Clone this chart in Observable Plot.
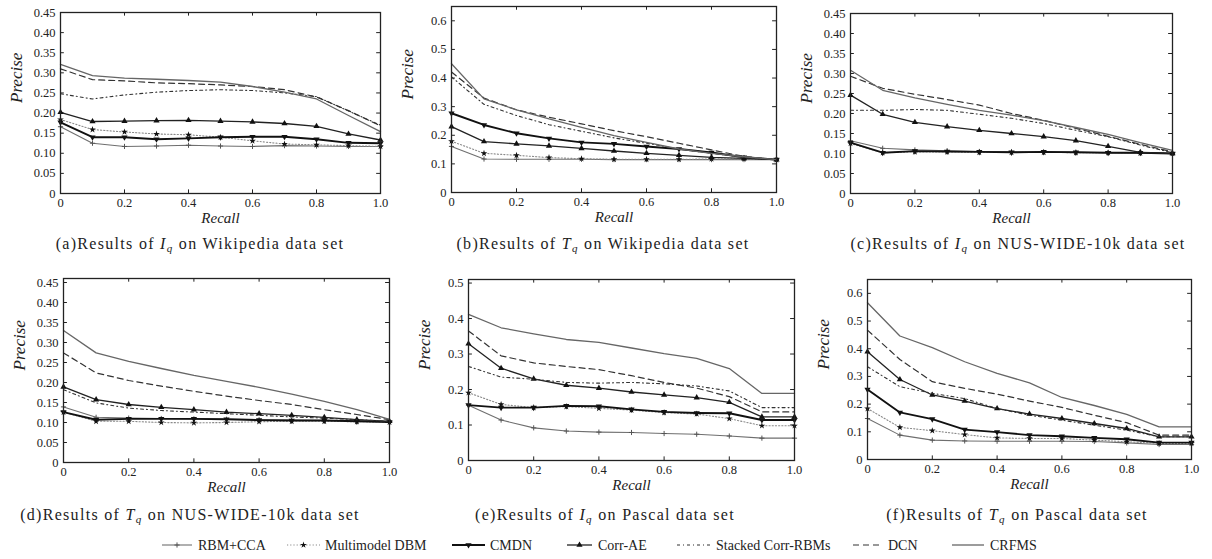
<!DOCTYPE html>
<html><head><meta charset="utf-8">
<script src="https://cdn.jsdelivr.net/npm/d3@7"></script>
<script src="https://cdn.jsdelivr.net/npm/@observablehq/plot@0.6"></script>
<style>
body{margin:0;background:#fff;}
#root{position:relative;width:1212px;height:559px;overflow:hidden;font-family:"Liberation Serif","DejaVu Serif","Noto Serif","Times New Roman",Times,serif;background:#fff;}
.panel{position:absolute;}
.cap{position:absolute;font-size:16px;letter-spacing:1.3px;white-space:nowrap;transform:translate(-50%,-50%);color:#222;line-height:1;}
.cap sub{font-size:11px;font-style:italic;vertical-align:-3px;line-height:0;}
#legend{position:absolute;left:0;top:530px;}
</style></head><body><div id="root"></div>
<script>
// ---------------- data ----------------
const recall = [0, 0.1, 0.2, 0.3, 0.4, 0.5, 0.6, 0.7, 0.8, 0.9, 1.0];
const methods = ["RBM+CCA", "Multimodel DBM", "CMDN", "Corr-AE", "Stacked Corr-RBMs", "DCN", "CRFMS"];
const xTicks = [0, 0.2, 0.4, 0.6, 0.8, 1.0];

// (a) I_q on Wikipedia
const aRBM     = [0.166,0.125,0.117,0.118,0.120,0.118,0.117,0.119,0.118,0.117,0.117];
const aDBM     = [0.184,0.159,0.153,0.148,0.146,0.140,0.131,0.123,0.121,0.119,0.117];
const aCMDN    = [0.177,0.140,0.140,0.135,0.137,0.140,0.141,0.141,0.135,0.126,0.125];
const aCorrAE  = [0.202,0.179,0.180,0.181,0.182,0.180,0.178,0.174,0.167,0.148,0.133];
const aStacked = [0.248,0.235,0.245,0.252,0.256,0.258,0.256,0.250,0.241,0.205,0.170];
const aDCN     = [0.310,0.283,0.280,0.275,0.273,0.270,0.266,0.258,0.240,0.206,0.168];
const aCRFMS   = [0.321,0.293,0.287,0.284,0.281,0.277,0.266,0.252,0.235,0.194,0.154];
// (b) T_q on Wikipedia
const bRBM     = [0.161,0.117,0.116,0.116,0.116,0.115,0.115,0.115,0.115,0.115,0.115];
const bDBM     = [0.179,0.137,0.130,0.122,0.118,0.116,0.116,0.116,0.117,0.117,0.115];
const bCMDN    = [0.277,0.236,0.207,0.189,0.175,0.170,0.161,0.152,0.140,0.123,0.115];
const bCorrAE  = [0.230,0.178,0.170,0.163,0.154,0.145,0.137,0.130,0.123,0.119,0.115];
const bStacked = [0.404,0.308,0.269,0.237,0.214,0.191,0.172,0.152,0.137,0.123,0.115];
const bDCN     = [0.421,0.330,0.289,0.263,0.240,0.216,0.195,0.172,0.149,0.126,0.115];
const bCRFMS   = [0.450,0.327,0.289,0.257,0.228,0.199,0.175,0.152,0.137,0.125,0.115];
// (c) I_q on NUS-WIDE-10k
const cRBM     = [0.132,0.113,0.109,0.107,0.105,0.104,0.103,0.103,0.102,0.101,0.100];
const cDBM     = [0.125,0.102,0.104,0.104,0.103,0.103,0.103,0.102,0.102,0.101,0.100];
const cCMDN    = [0.127,0.102,0.106,0.105,0.104,0.103,0.104,0.103,0.102,0.102,0.100];
const cCorrAE  = [0.246,0.198,0.178,0.167,0.158,0.150,0.142,0.132,0.118,0.103,0.100];
const cStacked = [0.208,0.208,0.210,0.208,0.198,0.188,0.175,0.158,0.142,0.121,0.102];
const cDCN     = [0.293,0.263,0.248,0.235,0.221,0.200,0.183,0.163,0.143,0.123,0.104];
const cCRFMS   = [0.308,0.258,0.239,0.223,0.208,0.196,0.182,0.165,0.148,0.127,0.108];
// (d) T_q on NUS-WIDE-10k
const dRBM     = [0.139,0.113,0.111,0.110,0.109,0.108,0.107,0.106,0.105,0.104,0.103];
const dDBM     = [0.126,0.103,0.103,0.100,0.099,0.100,0.102,0.103,0.103,0.102,0.101];
const dCMDN    = [0.126,0.107,0.109,0.109,0.109,0.108,0.106,0.105,0.105,0.103,0.101];
const dCorrAE  = [0.189,0.157,0.145,0.138,0.132,0.126,0.122,0.118,0.113,0.107,0.103];
const dStacked = [0.182,0.149,0.136,0.130,0.126,0.122,0.118,0.114,0.111,0.107,0.103];
const dDCN     = [0.274,0.224,0.205,0.191,0.178,0.166,0.155,0.145,0.132,0.120,0.107];
const dCRFMS   = [0.330,0.274,0.253,0.235,0.218,0.203,0.188,0.171,0.153,0.132,0.108];
// (e) I_q on Pascal
const eRBM     = [0.156,0.114,0.092,0.083,0.080,0.079,0.076,0.074,0.069,0.063,0.063];
const eDBM     = [0.191,0.158,0.149,0.152,0.147,0.142,0.135,0.131,0.118,0.098,0.098];
const eCMDN    = [0.156,0.149,0.149,0.154,0.153,0.144,0.137,0.134,0.133,0.114,0.114];
const eCorrAE  = [0.329,0.260,0.230,0.212,0.204,0.193,0.185,0.177,0.164,0.123,0.123];
const eStacked = [0.265,0.235,0.229,0.220,0.218,0.220,0.216,0.210,0.196,0.149,0.149];
const eDCN     = [0.365,0.295,0.275,0.265,0.256,0.239,0.220,0.204,0.180,0.137,0.137];
const eCRFMS   = [0.412,0.374,0.357,0.341,0.333,0.317,0.301,0.288,0.259,0.189,0.189];
// (f) T_q on Pascal
const fRBM     = [0.148,0.088,0.070,0.067,0.066,0.066,0.066,0.065,0.060,0.054,0.054];
const fDBM     = [0.184,0.116,0.104,0.090,0.078,0.076,0.076,0.070,0.064,0.058,0.058];
const fCMDN    = [0.253,0.170,0.146,0.108,0.099,0.088,0.084,0.078,0.073,0.061,0.061];
const fCorrAE  = [0.389,0.289,0.233,0.211,0.184,0.164,0.148,0.130,0.112,0.082,0.082];
const fStacked = [0.335,0.263,0.239,0.220,0.184,0.160,0.142,0.124,0.106,0.082,0.082];
const fDCN     = [0.467,0.361,0.281,0.257,0.236,0.211,0.188,0.160,0.133,0.088,0.088];
const fCRFMS   = [0.566,0.446,0.404,0.353,0.311,0.277,0.224,0.195,0.163,0.118,0.118];

const yTicks045 = [0,0.05,0.10,0.15,0.20,0.25,0.30,0.35,0.40,0.45];
const yTicks06  = [0,0.1,0.2,0.3,0.4,0.5,0.6];
const yTicks05  = [0,0.1,0.2,0.3,0.4,0.5];

// ---------------- styles ----------------
const FONT = '"Liberation Serif","DejaVu Serif","Noto Serif","Times New Roman",Times,serif';
const styles = {
  "RBM+CCA":          {stroke:"#6f6f6f", width:1.1, dash:null,      symbol:"plus",     r:1.8, fill:"none",  mstroke:"#555"},
  "Multimodel DBM":   {stroke:"#8a8a8a", width:1.1, dash:"1.2,2",   symbol:"star",     r:2.1, fill:"#111",  mstroke:"none"},
  "CMDN":             {stroke:"#111",    width:1.9, dash:null,      symbol:"triangle", r:2.3, fill:"#111",  mstroke:"none", rotate:180},
  "Corr-AE":          {stroke:"#222",    width:1.3, dash:null,      symbol:"triangle", r:2.3, fill:"#111",  mstroke:"none"},
  "Stacked Corr-RBMs":{stroke:"#333",    width:1.1, dash:"3,3,1,3", symbol:null},
  "DCN":              {stroke:"#333",    width:1.2, dash:"6,4",     symbol:null},
  "CRFMS":            {stroke:"#666",    width:1.3, dash:null,      symbol:null}
};

const panels = [
  {id:"a", L:60,  R:380,  T:12,  B:193, ymax:0.45, yTicks:yTicks045, fmt:2,
   series:[aRBM,aDBM,aCMDN,aCorrAE,aStacked,aDCN,aCRFMS],
   cap:['(a)Results of ','I','q',' on Wikipedia data set'], cx:200, cy:244},
  {id:"b", L:451, R:776,  T:6,   B:192, ymax:0.65, yTicks:yTicks06, fmt:1,
   series:[bRBM,bDBM,bCMDN,bCorrAE,bStacked,bDCN,bCRFMS],
   cap:['(b)Results of ','T','q',' on Wikipedia data set'], cx:603, cy:244},
  {id:"c", L:850, R:1172, T:13,  B:193, ymax:0.45, yTicks:yTicks045, fmt:2,
   series:[cRBM,cDBM,cCMDN,cCorrAE,cStacked,cDCN,cCRFMS],
   cap:['(c)Results of ','I','q',' on NUS-WIDE-10k data set'], cx:1018, cy:244},
  {id:"d", L:63,  R:389,  T:278, B:462, ymax:0.46, yTicks:yTicks045, fmt:2,
   series:[dRBM,dDBM,dCMDN,dCorrAE,dStacked,dDCN,dCRFMS],
   cap:['(d)Results of ','T','q',' on NUS-WIDE-10k data set'], cx:190, cy:515},
  {id:"e", L:468, R:794,  T:279, B:460, ymax:0.51, yTicks:yTicks05, fmt:1,
   series:[eRBM,eDBM,eCMDN,eCorrAE,eStacked,eDCN,eCRFMS],
   cap:['(e)Results of ','I','q',' on Pascal data set'], cx:605, cy:515},
  {id:"f", L:867, R:1191, T:279, B:459, ymax:0.65, yTicks:yTicks06, fmt:1,
   series:[fRBM,fDBM,fCMDN,fCorrAE,fStacked,fDCN,fCRFMS],
   cap:['(f)Results of ','T','q',' on Pascal data set'], cx:1017, cy:515}
];

const root = document.getElementById("root");

function makePanel(p){
  const mL = 52, mR = 8, mT = 8, mB = 42;
  const width = p.R - p.L + mL + mR;
  const height = p.B - p.T + mT + mB;
  const marks = [];
  methods.forEach((m, k) => {
    const s = styles[m];
    const rows = p.series[k].map((v, i) => ({x: recall[i], y: v}));
    marks.push(Plot.line(rows, {x:"x", y:"y", stroke:s.stroke, strokeWidth:s.width, strokeDasharray:s.dash}));
    if (s.symbol) {
      marks.push(Plot.dot(rows, {x:"x", y:"y", symbol:s.symbol, r:s.r, fill:s.fill, stroke:s.mstroke, strokeWidth:1, rotate:s.rotate || 0}));
    }
  });
  const ylen = p.ymax * 0.02;
  const chart = Plot.plot({
    width, height,
    marginLeft: mL, marginRight: mR, marginTop: mT, marginBottom: mB,
    style: {fontFamily: FONT, fontSize: "12.5px", color: "#222", background: "transparent", overflow: "visible"},
    x: {domain: [0, 1]},
    y: {domain: [0, p.ymax]},
    marks: [
      Plot.axisY(p.yTicks, {tickSize: 0, tickPadding: 5, label: null, fontFamily: FONT,
        tickFormat: d => d === 0 ? "0" : d.toFixed(p.fmt), fontSize: 12.5}),
      Plot.axisX(xTicks, {tickSize: 0, tickPadding: 5, label: null, fontFamily: FONT,
        tickFormat: d => d === 0 ? "0" : d.toFixed(1), fontSize: 12.5}),
      // inward ticks on all four sides
      Plot.ruleY(p.yTicks.filter(d => d > 0 && d < p.ymax), {y: d => d, x1: () => 0, x2: () => 0.012, stroke: "#222"}),
      Plot.ruleY(p.yTicks.filter(d => d > 0 && d < p.ymax), {y: d => d, x1: () => 1, x2: () => 0.988, stroke: "#222"}),
      Plot.ruleX(xTicks.filter(d => d > 0 && d < 1), {x: d => d, y1: () => 0, y2: () => ylen, stroke: "#222"}),
      Plot.ruleX(xTicks.filter(d => d > 0 && d < 1), {x: d => d, y1: () => p.ymax, y2: () => p.ymax - ylen, stroke: "#222"}),
      ...marks,
      Plot.frame({stroke: "#222", strokeWidth: 1.3}),
      Plot.text(["Recall"], {frameAnchor: "bottom", dy: 29, fontStyle: "italic", fontSize: 15, fill: "#222", fontFamily: FONT}),
      Plot.text(["Precise"], {frameAnchor: "left", dx: -44, rotate: -90, fontStyle: "italic", fontSize: 17, fill: "#222", fontFamily: FONT})
    ]
  });
  const div = document.createElement("div");
  div.className = "panel";
  div.style.left = (p.L - mL) + "px";
  div.style.top = (p.T - mT) + "px";
  div.appendChild(chart);
  root.appendChild(div);

  const cap = document.createElement("div");
  cap.className = "cap";
  cap.style.left = p.cx + "px";
  cap.style.top = p.cy + "px";
  cap.innerHTML = `${p.cap[0]}<i>${p.cap[1]}</i><sub>${p.cap[2]}</sub>${p.cap[3]}`;
  root.appendChild(cap);
}
panels.forEach(makePanel);

// ---------------- legend ----------------
const legendPos = {
  "RBM+CCA":          {x1:162, x2:192, tx:198},
  "Multimodel DBM":   {x1:287, x2:320, tx:325},
  "CMDN":             {x1:452, x2:485, tx:490},
  "Corr-AE":          {x1:567, x2:592, tx:598},
  "Stacked Corr-RBMs":{x1:677, x2:710, tx:716},
  "DCN":              {x1:853, x2:880, tx:888},
  "CRFMS":            {x1:952, x2:984, tx:990}
};
const lg = d3.select(root).append("svg").attr("id", "legend").attr("width", 1212).attr("height", 29);
const ly = 15;
methods.forEach(m => {
  const s = styles[m], q = legendPos[m];
  lg.append("line").attr("x1", q.x1).attr("x2", q.x2).attr("y1", ly).attr("y2", ly)
    .attr("stroke", s.stroke).attr("stroke-width", s.width).attr("stroke-dasharray", s.dash);
  if (s.symbol) {
    const sym = {plus: d3.symbolPlus, star: d3.symbolStar, triangle: d3.symbolTriangle}[s.symbol];
    const area = s.r * s.r * Math.PI;
    lg.append("path").attr("d", d3.symbol(sym, area)())
      .attr("transform", `translate(${(q.x1 + q.x2) / 2},${ly}) rotate(${s.rotate || 0})`)
      .attr("fill", s.fill).attr("stroke", s.mstroke);
  }
  lg.append("text").attr("x", q.tx).attr("y", ly).attr("dy", "0.35em")
    .attr("font-family", FONT).attr("font-size", 14).attr("fill", "#222").text(m);
});
</script></body></html>
